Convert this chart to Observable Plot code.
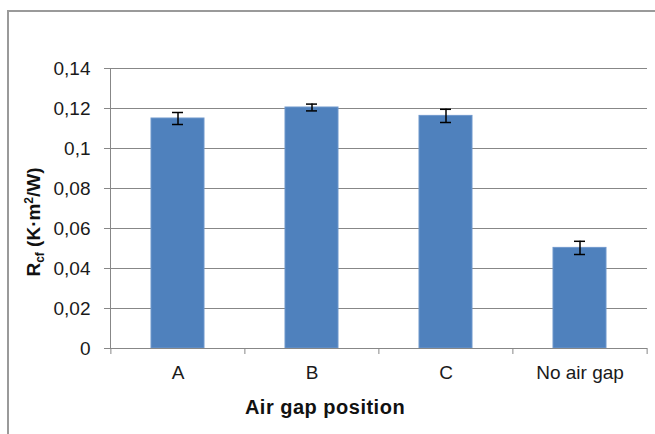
<!DOCTYPE html>
<html>
<head>
<meta charset="utf-8">
<script src="https://cdn.jsdelivr.net/npm/d3@7"></script>
<script src="https://cdn.jsdelivr.net/npm/@observablehq/plot@0.6"></script>
<style>
  html, body { margin: 0; padding: 0; background: #fff; }
  #wrap { position: relative; width: 655px; height: 434px; overflow: hidden; }
  #border { position: absolute; left: 7px; top: 10px; width: 700px; height: 500px;
            border-left: 2px solid #9a9a9a; border-top: 2px solid #9a9a9a; pointer-events: none; }
  svg { font-family: "Liberation Sans", Arial, sans-serif; }
</style>
</head>
<body>
<div id="wrap"><div id="border"></div></div>
<script>
const categories = ["A", "B", "C", "No air gap"];
const values = [0.115, 0.1205, 0.1163, 0.0503];
const errors = [0.003, 0.0017, 0.0033, 0.0033];
const yTicks = [0, 0.02, 0.04, 0.06, 0.08, 0.1, 0.12, 0.14];
const xTitle = "Air gap position";

const data = categories.map((c, i) => ({cat: c, v: values[i], lo: values[i] - errors[i], hi: values[i] + errors[i]}));

const W = 655, H = 434;
const mL = 110, mR = 8, mT = 68, mB = 86;
const padIn = 0.604, padOut = 0.302;
const step = (W - mL - mR) / (categories.length - padIn + 2 * padOut);
const gray = "#878787";
const fmt = d => String(d).replace(".", ",");

const plot = Plot.plot({
  width: W, height: H,
  marginLeft: mL, marginRight: mR, marginTop: mT, marginBottom: mB,
  style: {fontFamily: "'Liberation Sans', Arial, sans-serif", background: "transparent"},
  x: {domain: categories, paddingInner: padIn, paddingOuter: padOut, label: null},
  y: {domain: [0, 0.14], label: null},
  marks: [
    Plot.gridY(yTicks, {stroke: gray, strokeOpacity: 1, strokeWidth: 1}),
    Plot.barY(data, {x: "cat", y: "v", fill: "#4f81bd", stroke: "#6f97cc", strokeWidth: 1}),
    Plot.ruleX(data, {x: "cat", y1: "lo", y2: "hi", stroke: "#000", strokeWidth: 1.5}),
    Plot.tickY(data, {x: "cat", y: "lo", stroke: "#000", strokeWidth: 1.5, insetLeft: 21, insetRight: 21}),
    Plot.tickY(data, {x: "cat", y: "hi", stroke: "#000", strokeWidth: 1.5, insetLeft: 21, insetRight: 21}),
    Plot.axisY(yTicks, {tickSize: 6, tickPadding: 14, tickFormat: fmt, stroke: gray, fill: "#1a1a1a", fontSize: 19, label: null}),
    Plot.frame({anchor: "left", stroke: gray}),
    Plot.ruleY([0], {stroke: gray}),
    Plot.ruleX(categories, {x: d => d, y1: 0, y2: 0, dx: -step / 2, insetBottom: -6, stroke: gray}),
    Plot.ruleX(categories.slice(-1), {x: d => d, y1: 0, y2: 0, dx: step / 2, insetBottom: -6, stroke: gray}),
    Plot.axisX({tickSize: 0, tickPadding: 17, fill: "#1a1a1a", fontSize: 19, label: null})
  ]
});

const svg = d3.select(plot);
svg.append("text")
  .attr("x", 325).attr("y", 414)
  .attr("text-anchor", "middle")
  .attr("font-weight", "bold").attr("font-size", 20).attr("letter-spacing", "0.5px")
  .attr("fill", "#111")
  .text(xTitle);

const yl = svg.append("text")
  .attr("transform", "translate(40,222) rotate(-90)")
  .attr("text-anchor", "middle")
  .attr("font-weight", "bold").attr("font-size", 19).attr("fill", "#111");
yl.append("tspan").text("R");
yl.append("tspan").attr("dy", 4).attr("font-size", 12).text("cf");
yl.append("tspan").attr("dy", -4).text(" (K·m");
yl.append("tspan").attr("dy", -7).attr("font-size", 12).text("2");
yl.append("tspan").attr("dy", 7).text("/W)");

document.getElementById("wrap").appendChild(plot);
</script>
</body>
</html>
